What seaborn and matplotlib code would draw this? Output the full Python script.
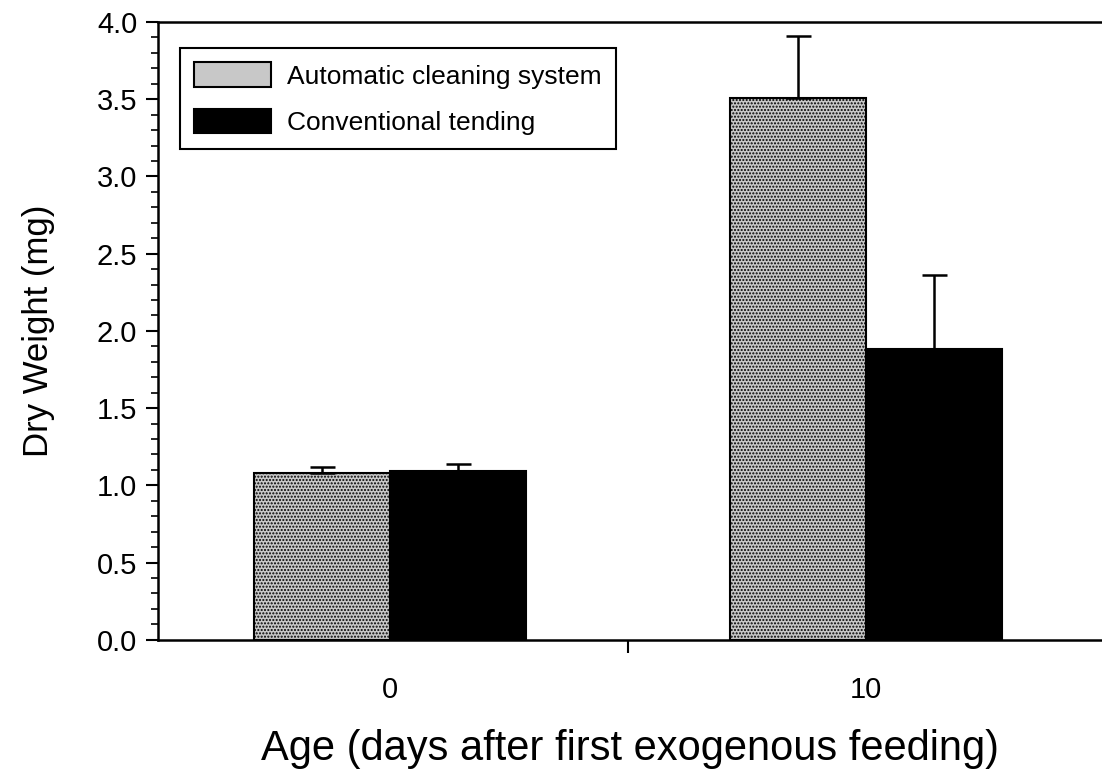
import numpy as np
import pandas as pd
import matplotlib
matplotlib.use('Agg')
import matplotlib.pyplot as plt
from matplotlib.ticker import MultipleLocator, FixedLocator, FormatStrFormatter
import seaborn as sns

# Données
ages = ['0', '10']
series = ['Automatic cleaning system', 'Conventional tending']
automatic = [1.08, 3.51]
conventional = [1.09, 1.88]
automatic_err = [0.04, 0.40]
conventional_err = [0.05, 0.48]

df = pd.DataFrame({
    'age': ages * 2,
    'treatment': [series[0]] * 2 + [series[1]] * 2,
    'weight': automatic + conventional,
})
errs = automatic_err + conventional_err

sns.set_style('ticks')
plt.rcParams['font.family'] = ['Liberation Sans', 'DejaVu Sans']
plt.rcParams['text.color'] = 'black'
plt.rcParams['axes.labelcolor'] = 'black'
plt.rcParams['xtick.color'] = 'black'
plt.rcParams['ytick.color'] = 'black'
plt.rcParams['hatch.linewidth'] = 1.0

fig = plt.figure(figsize=(11.02, 7.69), dpi=100)
ax = fig.add_axes([0.1434, 0.168, 0.8566, 0.8034])

sns.barplot(data=df, x='age', y='weight', hue='treatment', order=ages,
            hue_order=series, palette=['#c8c8c8', 'black'], width=0.57,
            errorbar=None, saturation=1, edgecolor='black', linewidth=1.5,
            ax=ax)

# texture pointillée pour la série grise
for p in ax.patches[:2]:
    p.set_hatch('.....')
    p.set_facecolor('#c8c8c8')

# barres d'erreur (uniquement vers le haut)
for p, e in zip(ax.patches[:4], errs):
    xc = p.get_x() + p.get_width() / 2
    ax.errorbar([xc], [p.get_height()], yerr=[[0], [e]], fmt='none',
                ecolor='black', elinewidth=1.8, capsize=9, capthick=1.8)

ax.set_xlim(-0.487, 1.496)
ax.set_ylim(0, 4.0)
ax.yaxis.set_major_locator(MultipleLocator(0.5))
ax.yaxis.set_minor_locator(MultipleLocator(0.1))
ax.yaxis.set_major_formatter(FormatStrFormatter('%.1f'))
ax.xaxis.set_minor_locator(FixedLocator([0.5]))
ax.tick_params(axis='x', which='major', length=0, labelsize=21, pad=26)
ax.tick_params(axis='x', which='minor', length=9, width=1.5, direction='out')
ax.tick_params(axis='y', which='major', length=9, width=1.5, labelsize=21, pad=6)
ax.tick_params(axis='y', which='minor', length=5, width=1.2)

for s in ['left', 'bottom', 'top']:
    ax.spines[s].set_linewidth(1.8)
    ax.spines[s].set_color('black')
ax.spines['right'].set_visible(False)
ax.spines['top'].set_visible(True)

ax.set_ylabel('Dry Weight (mg)', fontsize=25, labelpad=30)
ax.set_xlabel('Age (days after first exogenous feeding)', fontsize=30, labelpad=18)

leg = ax.legend(loc='upper left', bbox_to_anchor=(0.023, 0.958),
                borderaxespad=0, fontsize=19, frameon=True, fancybox=False,
                edgecolor='black', handlelength=2.9, handleheight=1.06,
                borderpad=0.55, labelspacing=0.75, handletextpad=0.6)
leg.get_frame().set_linewidth(1.5)
leg.get_frame().set_alpha(1)

fig.savefig('out.png', dpi=100)
